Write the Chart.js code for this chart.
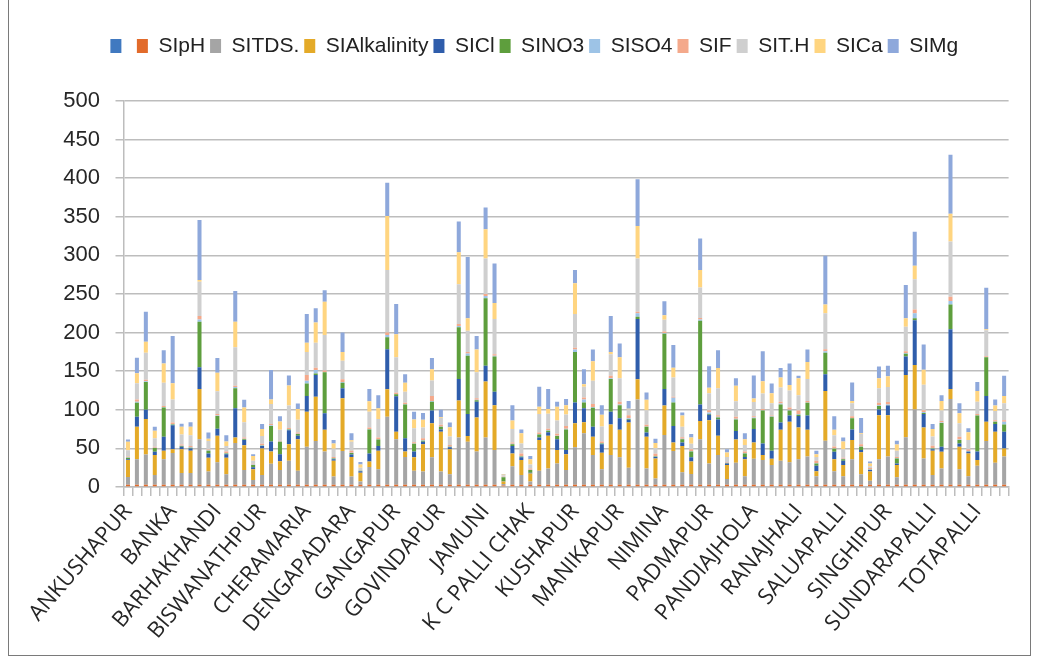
<!DOCTYPE html>
<html>
<head>
<meta charset="utf-8">
<script src="https://cdn.jsdelivr.net/npm/chart.js@4.4.1/dist/chart.umd.min.js"></script>
<style>
  html, body { margin: 0; padding: 0; background: #ffffff; }
  #wrap { position: relative; width: 1040px; height: 667px; overflow: hidden; }
  #frame { position: absolute; left: 8px; top: -2px; width: 1021px; height: 656px; border: 1px solid #7a7a7a; pointer-events: none; }
  canvas { position: absolute; left: 0; top: 0; }
</style>
</head>
<body>
<div id="wrap">
  <canvas id="c" width="1040" height="667"></canvas>
  <div id="frame"></div>
</div>
<script>
// ---- categories (only every 5th village name is printed in the reference) ----
const categories = [
  'ANKUSHAPUR','','','','', 'BANKA','','','','',
  'BARHAKHANDI','','','','', 'BISWANATHPUR','','','','',
  'CHERAMARIA','','','','', 'DENGAPADARA','','','','',
  'GANGAPUR','','','','', 'GOVINDAPUR','','','','',
  'JAMUNI','','','','', 'K C PALLI CHAK','','','','',
  'KUSHAPUR','','','','', 'MANIKAPUR','','','','',
  'NIMINA','','','','', 'PADMAPUR','','','','',
  'PANDIAJHOLA','','','','', 'RANAJHALI','','','','',
  'SALUAPALLI','','','','', 'SINGHIPUR','','','','',
  'SUNDARAPALLI','','','','', 'TOTAPALLI','','',''
];

// ---- series values (segment heights) ----
const blankSeries = [];
const SIpH = [
  3,3,3,3,3,3,3,3,3,3, 3,3,3,3,3,3,3,3,3,3,
  3,3,3,3,3,3,3,3,3,3, 3,3,3,3,3,3,3,3,3,3,
  3,3,2,3,3,3,3,3,3,3, 3,3,3,3,3,3,3,3,3,3,
  3,3,3,3,3,3,3,3,3,3, 3,3,3,3,3,3,3,3,3,3,
  3,3,3,3,3,3,3,3,3,3, 3,3,3,3,3,3,3,3,3
];
const SITDS = [
  10,33,39,12.5,33,41,15,15,59,17, 29,13.5,54,19,6,12.5,27,19,31,18,
  49,56.5,43,10.5,43.5,10.5,4,23,20,88, 59,36,18,17,35.5,17,13.5,61,55.5,43,
  61,45,2,24,12.5,4,18,21,27.5,19, 48.5,66.5,38.5,20,38.5,35.5,22,110.5,21,8,
  64.5,43.5,16,14,59,27.5,38.5,7.5,28.5,11, 33.5,32,25.5,31,29,33,36.5,11,57,17.5,
  11,33,13.5,5,33,36.5,9.5,61.5,97.5,34, 12.5,21,111,20,11,24.5,56.5,28.5,36.5
];
const SIAlkalinity = [
  22,42,46,26,11,5,31,29,65,18, 34.5,21.5,7,32,14,34.5,16,11.5,21.5,41,
  45.5,57.5,28,20.5,68.5,25.5,11.5,7,24,35.5, 9.5,7,17.5,35.5,44,51.5,32.5,48,7.5,44,
  72.5,58,3,16.5,19.5,10.5,40,42.5,17.5,20.5, 31,14.5,23.5,21.5,39.5,35.5,58.5,26,41,26,
  38,11,34,16,23.5,56,25,18,30,22, 21,6.5,8,40,52.5,41,34.5,6.5,64.5,15.5,
  14.5,25,28.5,12,57,53.5,16,80.5,57.5,40, 31.5,21.5,13,29,29.5,7.5,25,40,10.5
];
const SICl = [
  1,13,12,4,18,31,3,3,28,5.5, 9,4.5,38,7,2.5,3,13,9,18,4.5,
  20.5,28,21.5,2,13,3,2,10.5,6,52, 46,17,7.5,3,16.5,3,2.5,28,28.5,20.5,
  20.5,17.5,0.5,9.5,3.5,1,3,4.5,14,5.5, 27,18,13,11,16.5,15,3.5,78,5.5,2,
  21.5,21.5,4.5,5.5,21.5,7,21,2,11,3, 17.5,15,10.5,9.5,8,15,18.5,7,21.5,9.5,
  5.5,13.5,3,2,7.5,12.5,2,24,58,17.5, 2,6.5,77.5,4.5,2,11,33.5,10,21.5
];
const SINO3 = [
  2,18,36,5,38,1,1,1,59,3.5, 16.5,1,26,1,3,0.5,20,16,1,2,
  16,2,53,1,7,2,0.5,31,8.5,15.5, 2.5,44,10,1.5,11.5,3.5,0.5,67,75.5,2,
  87.5,45.5,5,2.5,1,3.5,4,2,4,26.5, 65.5,7.5,24.5,1,42.5,17,1,3,7.5,0.5,
  71.5,30.5,4.5,7.5,108.5,1,2.5,0.5,15,4.5, 14,42.5,44,23.5,6.5,1.5,16.5,3,28,4,
  2,14.5,4,0.5,4.5,0.5,6.5,3.5,2.5,1.5, 1,31,32,4.5,0.5,46.5,50,3,9.5
];
const SISO4 = [
  0.5,1.5,1,0.5,0.5,0.5,0.5,0.5,3,0.5, 0.5,0.5,1.5,0.5,0.5,0.5,1,0.5,0.5,0.5,
  3.5,4.5,0.5,0.5,1,0.5,0.3,0.5,0.5,3, 0.5,0.5,0.5,0.5,1,0.5,0.5,1.5,3,0.5,
  3,1,0.3,0.5,0.5,0.5,0.5,0.5,0.5,1, 3,4,1,0.5,1,1,1,4.5,0.5,0.5,
  1,6,0.5,0.5,1.5,2,1,0.3,1,0.5, 1,0.5,0.5,1,1,1,0.5,0.5,2,0.5,
  0.5,0.5,0.5,0.5,1,1,0.5,1,6.5,1, 0.5,0.5,4.5,0.5,0.5,0.5,0.5,0.5,3.5
];
const SIF = [
  1,3,2,1,1.5,2,1.5,1.5,4.5,1, 2,2,1.5,1.5,1,2,1.5,1,1.5,1.5,
  7.5,3,2,1.5,3.5,2.5,0.5,2,2,3, 1.5,1.5,1.5,2.5,6.5,2,2,2.5,2,2,
  2.5,2,0.5,1.5,3.5,1.5,2,2,2.5,3.5, 2.5,2.5,4,2,3,3.5,4,2,2,3,
  2,1.5,2,2.5,2,3,2,1,2.5,2, 1.5,1.5,1,2.5,3,4.5,2,3,2.5,2.5,
  1.5,2,3,1.5,3,3,1.5,2.5,5,2.5, 3,2,5.5,3.5,2.5,1.5,1,1.5,2
];
const SITH = [
  8,21,35,11,30,30,13,14,44.5,11, 29.5,7,50,20,4,10,26,14,29,16.5,
  30,32.5,46,10.5,24,11.5,3,20.5,24,81, 46,14.5,18,14,20,9,11,51.5,27.5,33.5,
  46,45.5,2,17.5,13,5,24,19.5,17,15, 43.5,14,30,19.5,28,30.5,7.5,69,19,7.5,
  15,25,13.5,7,39.5,22,35,6.5,20,8.5, 18.5,20,16,18.5,22,20,28.5,5,46.5,14.5,
  11,17,13,2.5,19,19.5,8,31.5,39,33, 12,13.5,71.5,17.5,12,16,33.5,12,22
];
const SICa = [
  11,13,14,10,25,21,10,11,2,3, 24,6,33,19,6,9,6,11,26,14,
  12,26,43,7,11.5,2,4.5,13.5,14,70, 30,11.5,11.5,10,14.5,1,12,41.5,16,29.5,
  38,21,1,11,13,7,9.5,6,18,12, 40,3,25.5,15,3,27,1,42,13.5,6.5,
  6,12.5,14.5,8,22.5,7,26,6,20,7.5, 4.5,16,13,13,7,22,22,3.5,11.5,7,
  10,3,1,3.5,13,14,8,11,17.5,19.5, 9.5,12.5,36,13,10,14,1.5,7,9.5
];
const SIMg = [
  3,20,39,5,17,61,4,6,78,8, 19,8,40,10,2.5,6.5,38,6.5,13,7,
  37,18.5,15,4.5,25,9,3,16,17,43, 39,11,10,9,14.5,9.5,6,40,79.5,17.5,
  28,51,0.5,20,5,4,26,26,6.5,8, 17,19.5,15,12.5,46.5,18,10,60.5,9.5,5.5,
  18,29.5,4,4.5,41,28,23,4,10,7.5, 30,39,12.5,12,28,3,16,4.5,63,17.5,
  5,24,20,2.5,15,13.5,5,43,44,32.5, 6.5,7.5,76.5,13,5,11.5,53.5,8,26
];
const yTicks = { min: 0, max: 500, step: 50 };

// ---- styling ----
const seriesDefs = [
  { label: '',             data: blankSeries,  color: '#4079C0' },
  { label: 'SIpH',         data: SIpH,         color: '#E26B2B' },
  { label: 'SITDS.',       data: SITDS,        color: '#A5A5A5' },
  { label: 'SIAlkalinity', data: SIAlkalinity, color: '#E4AA28' },
  { label: 'SICl',         data: SICl,         color: '#2F5DAB' },
  { label: 'SINO3',        data: SINO3,        color: '#5E9E3D' },
  { label: 'SISO4',        data: SISO4,        color: '#9DC3E6' },
  { label: 'SIF',          data: SIF,          color: '#F4A98B' },
  { label: 'SIT.H',        data: SITH,         color: '#CFCFCF' },
  { label: 'SICa',         data: SICa,         color: '#FFD580' },
  { label: 'SIMg',         data: SIMg,         color: '#8EA8DB' }
];

const sans = "'Liberation Sans', Arial, sans-serif";
const gridColor = '#BDBDBD';

new Chart(document.getElementById('c'), {
  type: 'bar',
  data: {
    labels: categories,
    datasets: seriesDefs.map(s => ({
      label: s.label,
      data: s.data,
      backgroundColor: s.color,
      borderWidth: 0,
      categoryPercentage: 1.0,
      barPercentage: 0.45
    }))
  },
  options: {
    responsive: false,
    animation: false,
    devicePixelRatio: 1,
    layout: { padding: { left: 60, right: 31.4, top: 30.5, bottom: 0 } },
    plugins: {
      tooltip: { enabled: false },
      title: {
        display: true, text: ' ', weight: 500,
        font: { size: 10, lineHeight: 1 },
        padding: { top: 24.5, bottom: 0 }
      },
      legend: {
        position: 'top',
        align: 'center',
        labels: {
          boxWidth: 11,
          boxHeight: 14,
          padding: 5,
          color: '#222222',
          font: { family: sans, size: 21 }
        }
      }
    },
    scales: {
      x: {
        stacked: true,
        offset: true,
        grid: { display: true, drawOnChartArea: false, drawTicks: true, tickLength: 9, color: gridColor, lineWidth: 1.5, offset: true },
        border: { display: true, color: gridColor, width: 1.5 },
        ticks: {
          autoSkip: false,
          maxRotation: 49.5,
          minRotation: 49.5,
          padding: 3,
          color: '#262626',
          font: { family: "'Open Sans', 'Noto Sans', sans-serif", size: 22 },
          callback: function (value) { return this.getLabelForValue(value); }
        },
        afterFit: (scale) => { scale.height = 180; }
      },
      y: {
        stacked: true,
        min: yTicks.min,
        max: yTicks.max,
        grid: { color: gridColor, lineWidth: 1.5, tickLength: 8 },
        border: { display: true, color: gridColor, width: 1.5 },
        ticks: {
          stepSize: yTicks.step,
          padding: 15.5,
          color: '#262626',
          font: { family: sans, size: 22 }
        },
        afterFit: (scale) => { scale.width = 63.5; }
      }
    }
  }
});
</script>
</body>
</html>
